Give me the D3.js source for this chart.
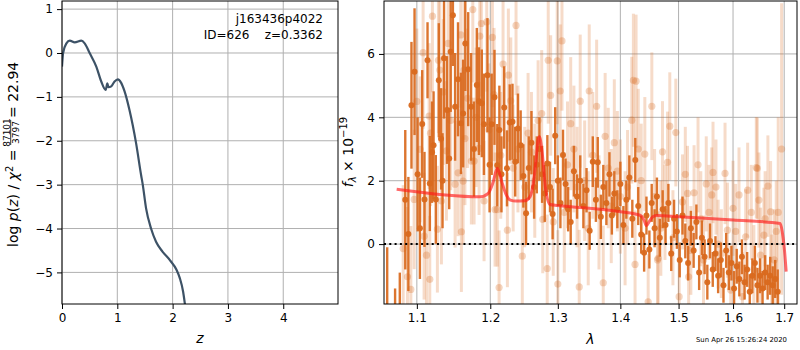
<!DOCTYPE html>
<html><head><meta charset="utf-8">
<script src="https://cdn.jsdelivr.net/npm/d3@7"></script>
<style>
body{margin:0;background:#fff}
svg{display:block;font-family:"DejaVu Sans",sans-serif}
</style>
</head><body>
<svg id="c" width="800" height="350"></svg>
<script>
// ---------- data: left panel (redshift PDF) ----------
const zGrid = [0, 0.02, 0.08, 0.14, 0.23, 0.35, 0.41, 0.5, 0.62, 0.71, 0.79, 0.82, 0.84, 0.89, 0.95, 1.01, 1.07, 1.13, 1.22, 1.34, 1.43, 1.46, 1.52, 1.61, 1.70, 1.82, 1.95, 2.07, 2.13, 2.19, 2.22, 2.26];
const logPz = [-0.31, 0.0, 0.22, 0.28, 0.24, 0.28, 0.22, 0.0, -0.31, -0.65, -0.84, -0.69, -0.78, -0.76, -0.65, -0.6, -0.68, -0.87, -1.3, -2.06, -2.78, -3.0, -3.54, -4.0, -4.3, -4.53, -4.72, -4.94, -5.13, -5.44, -5.70, -6.1];
const zTicks = [0, 1, 2, 3, 4];
const logPTicks = [-5, -4, -3, -2, -1, 0, 1];
const objName = "j163436p4022";
const objInfo = "ID=626    z=0.3362";

// ---------- data: right panel (spectrum) ----------
// [wavelength (micron), flux (1e-19), error]
const darkSpec = [
[1.062,-2.6,2.5],[1.072,-3.0,1.6],[1.078,-2.8,1.9],[1.085,1.4,2.2],[1.089,0.32,1.8],[1.093,4.38,2.0],[1.097,5.44,2.0],
[1.101,2.2,1.8],[1.104,0.5,1.6],[1.107,3.79,1.7],[1.110,1.41,1.5],[1.114,5.8,1.2],[1.117,1.91,1.5],[1.120,2.9,1.6],
[1.122,3.12,1.7],[1.125,1.41,1.4],[1.129,5.17,1.8],[1.132,3.32,1.6],[1.134,2.0,1.5],[1.136,5.86,1.9],[1.140,4.23,1.7],
[1.143,2.7,1.6],[1.145,6.07,1.9],[1.148,7.22,1.6],[1.151,4.33,1.7],[1.155,5.2,1.8],[1.159,3.81,1.6],[1.162,4.12,1.7],
[1.165,6.33,1.5],[1.169,5.52,1.8],[1.173,4.33,1.7],[1.177,3.0,1.5],[1.181,5.02,1.8],[1.184,4.51,1.7],[1.188,4.44,1.7],
[1.191,3.78,1.6],[1.196,5.33,1.8],[1.199,2.5,1.5],[1.202,3.78,1.6],[1.206,4.63,1.5],[1.210,2.49,1.3],[1.213,3.6,1.4],
[1.216,2.2,1.2],[1.220,4.31,1.3],[1.224,2.39,1.2],[1.228,3.84,1.2],[1.232,3.86,1.2],[1.236,2.6,1.1],[1.240,3.65,1.1],
[1.244,3.12,1.1],[1.248,2.15,1.0],[1.252,0.97,1.0],[1.256,2.4,1.0],[1.260,3.2,1.0],[1.264,1.8,1.0],[1.268,2.5,0.9],
[1.272,3.0,1.0],[1.276,2.2,0.9],[1.280,1.6,0.9],[1.284,2.54,0.9],[1.288,1.8,0.8],[1.292,0.95,0.8],[1.296,3.42,0.9],
[1.300,2.0,0.8],[1.304,1.3,0.8],[1.308,2.81,0.8],[1.312,1.9,0.8],[1.316,1.1,0.7],[1.320,0.7,0.7],[1.325,2.3,0.8],
[1.330,1.5,0.7],[1.335,2.0,0.8],[1.340,1.2,0.7],[1.345,1.7,0.7],[1.350,0.42,0.6],[1.355,2.6,0.8],[1.360,1.4,0.7],
[1.363,2.58,0.8],[1.368,0.86,0.7],[1.372,1.8,0.7],[1.377,1.3,0.7],[1.382,2.2,0.7],[1.386,0.9,0.6],[1.390,1.6,0.7],
[1.395,1.1,0.6],[1.400,1.9,0.7],[1.405,0.6,0.6],[1.410,1.4,0.6],[1.415,2.1,0.7],[1.420,0.8,0.6],[1.425,2.65,0.7],
[1.430,1.2,0.6],[1.435,0.3,0.6],[1.440,-0.27,0.6],[1.444,0.9,0.6],[1.449,-0.17,0.6],[1.453,1.3,0.6],[1.458,0.5,0.6],
[1.462,1.5,0.6],[1.467,0.2,0.6],[1.472,1.1,0.6],[1.477,0.6,0.6],[1.482,1.3,0.6],[1.487,-0.3,0.55],[1.492,0.8,0.6],
[1.497,0.4,0.55],[1.502,-0.5,0.55],[1.507,0.9,0.6],[1.512,0.1,0.55],[1.517,-0.6,0.55],[1.522,0.5,0.55],[1.527,-0.2,0.55],
[1.532,0.7,0.55],[1.537,-0.9,0.55],[1.542,0.2,0.55],[1.547,-0.4,0.55],[1.552,-1.2,0.55],[1.557,0.1,0.55],[1.562,-0.8,0.55],
[1.567,-0.3,0.55],[1.572,-1.0,0.55],[1.577,-0.5,0.55],[1.582,-1.3,0.55],[1.587,-0.2,0.55],[1.592,-0.9,0.55],[1.597,-0.6,0.55],
[1.602,-1.4,0.55],[1.607,-0.7,0.55],[1.612,-1.1,0.55],[1.617,-0.4,0.55],[1.622,-1.2,0.55],[1.627,-0.8,0.55],[1.632,-1.5,0.55],
[1.637,-1.0,0.55],[1.642,-0.6,0.55],[1.647,-1.3,0.55],[1.652,-1.0,0.55],[1.657,-1.4,0.55],[1.662,-0.9,0.55],[1.667,-1.2,0.55],
[1.672,-1.0,0.6],[1.677,-1.3,0.6],[1.682,-1.1,0.6],[1.687,-1.5,0.7]
];
const lightSpec = [
[1.0823,-0.14,2.0],[1.0878,-1.03,2.2],[1.0922,-1.43,2.0],[1.0965,1.41,2.2],[1.100,4.5,2.3],[1.1043,2.99,2.3],[1.1082,6.04,2.4],
[1.1095,0.25,2.0],[1.1126,-0.35,2.0],[1.1161,4.04,2.3],[1.1170,-1.11,2.0],[1.118,3.5,2.3],[1.1205,7.19,2.4],[1.1271,0.47,2.0],
[1.1285,5.8,2.3],[1.1304,5.49,2.3],[1.1325,1.36,2.0],[1.135,4.8,2.3],[1.1392,2.94,2.2],[1.1415,6.33,2.3],[1.145,3.9,2.2],
[1.1510,1.89,2.0],[1.1551,2.25,2.0],[1.1588,6.6,2.3],[1.1596,0.39,1.9],[1.1620,1.99,2.0],[1.1633,5.49,2.2],[1.1645,3.33,2.1],
[1.168,4.6,2.2],[1.1734,2.62,2.0],[1.1754,7.4,2.3],[1.1772,2.62,2.0],[1.180,4.0,2.2],[1.1842,3.02,2.1],[1.1852,6.56,2.2],
[1.1874,6.96,2.3],[1.1912,1.36,1.9],[1.1950,7.01,2.2],[1.198,3.6,2.1],[1.2030,6.52,2.2],[1.2054,4.72,2.1],[1.2068,1.09,1.8],
[1.2100,1.09,1.8],[1.2126,-1.37,1.8],[1.215,2.8,2.0],[1.2183,5.68,2.1],[1.2246,0.44,1.8],[1.2260,5.33,2.1],[1.2295,4.52,2.0],
[1.233,2.4,2.0],[1.2372,6.9,2.2],[1.240,3.0,2.0],[1.2464,-0.38,1.8],[1.250,1.8,1.9],[1.2550,3.5,1.9],[1.260,2.9,1.9],
[1.2650,2.0,1.8],[1.270,3.9,1.9],[1.2754,4.12,2.0],[1.2770,0.78,1.7],[1.2838,-0.77,1.7],[1.2853,5.8,2.0],[1.2890,4.69,1.9],
[1.2930,0.7,1.7],[1.2991,5.78,2.0],[1.3000,-1.26,1.7],[1.3037,4.83,2.1],[1.3064,6.41,2.2],[1.310,1.0,1.9],[1.3150,2.5,2.0],
[1.320,3.8,2.1],[1.3250,3.0,2.0],[1.330,1.8,1.9],[1.3334,-1.35,1.8],[1.3350,4.51,2.1],[1.3420,2.0,1.9],[1.3477,0.5,1.8],
[1.3493,4.83,2.1],[1.3550,2.8,2.0],[1.3612,4.35,2.1],[1.365,1.0,1.8],[1.3719,-1.22,1.8],[1.375,3.4,2.0],[1.3800,2.4,1.9],
[1.385,1.2,1.8],[1.3900,3.2,2.0],[1.395,2.3,1.9],[1.4000,1.5,1.8],[1.4079,0.5,1.8],[1.412,1.8,1.8],[1.4191,3.91,2.0],
[1.4218,5.17,2.1],[1.4246,-0.64,1.7],[1.4263,5.14,2.1],[1.430,3.0,1.9],[1.4350,2.0,1.8],[1.4412,2.84,1.8],[1.4469,-1.82,1.5],
[1.4532,4.35,1.7],[1.458,1.5,1.5],[1.4631,-0.5,1.5],[1.4641,-0.45,1.5],[1.4688,0.5,1.5],[1.4717,2.91,1.6],[1.476,1.0,1.5],
[1.4805,2.58,1.6],[1.4845,3.72,1.7],[1.490,0.2,1.5],[1.4951,3.52,1.7],[1.5010,-1.66,1.5],[1.5070,1.33,1.5],[1.512,2.2,1.5],
[1.5160,1.6,1.5],[1.5180,-1.03,1.5],[1.522,-0.2,1.4],[1.5278,1.62,1.5],[1.535,2.5,1.5],[1.5400,0.8,1.5],[1.545,-0.5,1.4],
[1.5500,1.9,1.5],[1.555,1.0,1.5],[1.5601,1.55,1.5],[1.5625,2.26,1.6],[1.568,1.8,1.5],[1.5720,0.0,1.4],[1.578,-0.3,1.4],
[1.5849,2.23,1.6],[1.5894,0.44,1.5],[1.5956,-1.45,1.4],[1.6000,1.13,1.5],[1.605,0.4,1.5],[1.6114,1.55,1.5],[1.6179,-1.66,1.4],
[1.6242,0.23,1.5],[1.628,1.7,1.5],[1.6350,1.0,1.5],[1.640,-0.8,1.4],[1.6447,2.41,1.6],[1.6467,2.39,1.6],[1.6498,1.39,1.5],
[1.6531,-0.35,1.5],[1.6596,0.28,1.5],[1.662,0.8,1.5],[1.6675,1.83,1.6],[1.6728,1.02,1.6],[1.675,-1.2,1.5],[1.6800,-0.5,1.6],
[1.684,0.4,1.6],[1.688,1.0,3.0],[1.6948,3.0,4.6]
];
const modelWave = [1.074, 1.1856, 1.197, 1.204, 1.210, 1.216, 1.222, 1.229, 1.237, 1.25, 1.258, 1.264, 1.268, 1.270, 1.272, 1.276, 1.281, 1.288, 1.30, 1.40, 1.433, 1.440, 1.444, 1.449, 1.455, 1.462, 1.50, 1.60, 1.692, 1.696, 1.700, 1.704];
const modelFlux = [1.73, 1.49, 1.6, 1.95, 2.39, 2.0, 1.6, 1.39, 1.36, 1.37, 1.5, 2.1, 2.9, 3.3, 3.39, 2.9, 1.8, 1.25, 1.22, 1.02, 0.91, 0.75, 0.58, 0.72, 0.86, 0.9, 0.86, 0.76, 0.65, 0.4, -0.1, -0.87];
const waveTicks = [1.1, 1.2, 1.3, 1.4, 1.5, 1.6, 1.7];
const fluxTicks = [0, 2, 4, 6];
const stamp = "Sun Apr 26 15:26:24 2020";

// ---------- drawing ----------
const svg = d3.select("#c");
const FONT = 12;
const gridCol = "#b0b0b0";
const orange = "#d9691d";

function styleAxis(g){
  g.select(".domain").remove();
  g.selectAll(".tick line").attr("stroke","#000").attr("stroke-width",1);
  g.selectAll(".tick text").attr("fill","#000").style("font-size",FONT+"px").style("font-family","DejaVu Sans");
}

// ----- left panel -----
const L = {x0:62, x1:338, y0:1, y1:304};
const xz = d3.scaleLinear().domain([0, 4.99]).range([L.x0, L.x1]);
const yp = d3.scaleLinear().domain([-5.72, 1.185]).range([L.y1, L.y0]);

const gl = svg.append("g");
gl.append("clipPath").attr("id","clipL").append("rect")
  .attr("x",L.x0).attr("y",L.y0).attr("width",L.x1-L.x0).attr("height",L.y1-L.y0);
gl.append("g").selectAll("line").data(zTicks).join("line")
  .attr("x1",d=>xz(d)).attr("x2",d=>xz(d)).attr("y1",L.y0).attr("y2",L.y1)
  .attr("stroke",gridCol).attr("stroke-width",1);
gl.append("g").selectAll("line").data(logPTicks).join("line")
  .attr("x1",L.x0).attr("x2",L.x1).attr("y1",d=>yp(d)).attr("y2",d=>yp(d))
  .attr("stroke",gridCol).attr("stroke-width",1);

const pzLine = d3.line().x((d,i)=>xz(zGrid[i])).y(d=>yp(d)).curve(d3.curveMonotoneX);
gl.append("path").datum(logPz).attr("d",pzLine).attr("fill","none")
  .attr("stroke","#3d5266").attr("stroke-width",2.2).attr("clip-path","url(#clipL)");

gl.append("g").attr("transform",`translate(0,${L.y1})`)
  .call(d3.axisBottom(xz).tickValues(zTicks).tickFormat(d3.format("d")).tickSize(5).tickPadding(4)).call(styleAxis);
gl.append("g").attr("transform",`translate(${L.x0},0)`)
  .call(d3.axisLeft(yp).tickValues(logPTicks).tickFormat(d3.format("d")).tickSize(5).tickPadding(4)).call(styleAxis);
gl.append("rect").attr("x",L.x0).attr("y",L.y0).attr("width",L.x1-L.x0).attr("height",L.y1-L.y0)
  .attr("fill","none").attr("stroke","#000").attr("stroke-width",1);

gl.append("text").attr("x",323).attr("y",23).attr("text-anchor","end").style("font-size","12px").text(objName);
gl.append("text").attr("x",323).attr("y",39).attr("text-anchor","end").style("font-size","12px")
  .style("white-space","pre").attr("xml:space","preserve").text(objInfo);

gl.append("text").attr("x",(L.x0+L.x1)/2).attr("y",343).attr("text-anchor","middle")
  .style("font-size","14px").style("font-style","italic").text("z");

// left y label (rotated)
const ylab = gl.append("g").attr("transform","translate(18,0) rotate(-90)");
const t1 = ylab.append("text").attr("x",-247).attr("y",0).style("font-size","14px");
t1.append("tspan").text("log ");
t1.append("tspan").style("font-style","italic").text("p");
t1.append("tspan").text("(");
t1.append("tspan").style("font-style","italic").text("z");
t1.append("tspan").text(") / ");
t1.append("tspan").style("font-style","italic").text("χ");
t1.append("tspan").attr("dy",-5).style("font-size","10px").text("2");
t1.append("tspan").attr("dy",5).text(" =");
ylab.append("text").attr("x",-132.5).attr("y",-8.5).attr("text-anchor","middle").style("font-size","9px").text("87101");
ylab.append("line").attr("x1",-145).attr("x2",-120).attr("y1",-7.3).attr("y2",-7.3).attr("stroke","#000").attr("stroke-width",0.8);
ylab.append("text").attr("x",-132.5).attr("y",0.5).attr("text-anchor","middle").style("font-size","9px").text("3797");
ylab.append("text").attr("x",-118).attr("y",0).style("font-size","14px").text("= 22.94");

// ----- right panel -----
const R = {x0:384, x1:797, y0:1, y1:304};
const xw = d3.scaleLog().domain([1.058, 1.726]).range([R.x0, R.x1]);
const yf = d3.scaleLinear().domain([-1.89, 7.67]).range([R.y1, R.y0]);

const gr = svg.append("g");
gr.append("clipPath").attr("id","clipR").append("rect")
  .attr("x",R.x0).attr("y",R.y0).attr("width",R.x1-R.x0).attr("height",R.y1-R.y0);
gr.append("g").selectAll("line").data(waveTicks).join("line")
  .attr("x1",d=>xw(d)).attr("x2",d=>xw(d)).attr("y1",R.y0).attr("y2",R.y1)
  .attr("stroke",gridCol).attr("stroke-width",1);
gr.append("g").selectAll("line").data(fluxTicks).join("line")
  .attr("x1",R.x0).attr("x2",R.x1).attr("y1",d=>yf(d)).attr("y2",d=>yf(d))
  .attr("stroke",gridCol).attr("stroke-width",1);

const data = gr.append("g").attr("clip-path","url(#clipR)");
// light spectrum
data.append("g").selectAll("line").data(lightSpec).join("line")
  .attr("x1",d=>xw(d[0])).attr("x2",d=>xw(d[0]))
  .attr("y1",d=>yf(d[1]-d[2])).attr("y2",d=>yf(d[1]+d[2]))
  .attr("stroke",orange).attr("stroke-opacity",0.24).attr("stroke-width",3);
data.append("g").selectAll("circle").data(lightSpec).join("circle")
  .attr("cx",d=>xw(d[0])).attr("cy",d=>yf(d[1])).attr("r",3.6)
  .attr("fill",orange).attr("fill-opacity",0.28);
// dark spectrum
data.append("g").selectAll("line").data(darkSpec).join("line")
  .attr("x1",d=>xw(d[0])).attr("x2",d=>xw(d[0]))
  .attr("y1",d=>yf(d[1]-d[2])).attr("y2",d=>yf(d[1]+d[2]))
  .attr("stroke",orange).attr("stroke-opacity",0.92).attr("stroke-width",2.4);
data.append("g").selectAll("circle").data(darkSpec).join("circle")
  .attr("cx",d=>xw(d[0])).attr("cy",d=>yf(d[1])).attr("r",3)
  .attr("fill",orange).attr("fill-opacity",0.95);
// model
const mLine = d3.line().x((d,i)=>xw(modelWave[i])).y(d=>yf(d)).curve(d3.curveMonotoneX);
data.append("path").datum(modelFlux).attr("d",mLine).attr("fill","none")
  .attr("stroke","#ff1a1a").attr("stroke-opacity",0.65).attr("stroke-width",3);
// zero line
data.append("line").attr("x1",R.x0).attr("x2",R.x1).attr("y1",yf(0)).attr("y2",yf(0))
  .attr("stroke","#000").attr("stroke-width",2).attr("stroke-dasharray","2,3.3");

gr.append("g").attr("transform",`translate(0,${R.y1})`)
  .call(d3.axisBottom(xw).tickValues(waveTicks).tickFormat(d3.format(".1f")).tickSize(5).tickPadding(4)).call(styleAxis);
gr.append("g").attr("transform",`translate(${R.x0},0)`)
  .call(d3.axisLeft(yf).tickValues(fluxTicks).tickFormat(d3.format("d")).tickSize(5).tickPadding(4)).call(styleAxis);
gr.append("rect").attr("x",R.x0).attr("y",R.y0).attr("width",R.x1-R.x0).attr("height",R.y1-R.y0)
  .attr("fill","none").attr("stroke","#000").attr("stroke-width",1);

gr.append("text").attr("x",(R.x0+R.x1)/2).attr("y",344).attr("text-anchor","middle")
  .style("font-size","14px").style("font-style","italic").text("λ");

const ylab2 = gr.append("text").attr("transform","translate(353,152) rotate(-90)")
  .attr("text-anchor","middle").style("font-size","14px");
ylab2.append("tspan").style("font-style","italic").text("f");
ylab2.append("tspan").attr("dy",3).style("font-size","10px").style("font-style","italic").text("λ");
ylab2.append("tspan").attr("dy",-3).text(" × 10");
ylab2.append("tspan").attr("dy",-6).style("font-size","10px").text("−19");

svg.append("text").attr("x",787).attr("y",342).attr("text-anchor","end").style("font-size","6.9px").text(stamp);
</script>
</body></html>
